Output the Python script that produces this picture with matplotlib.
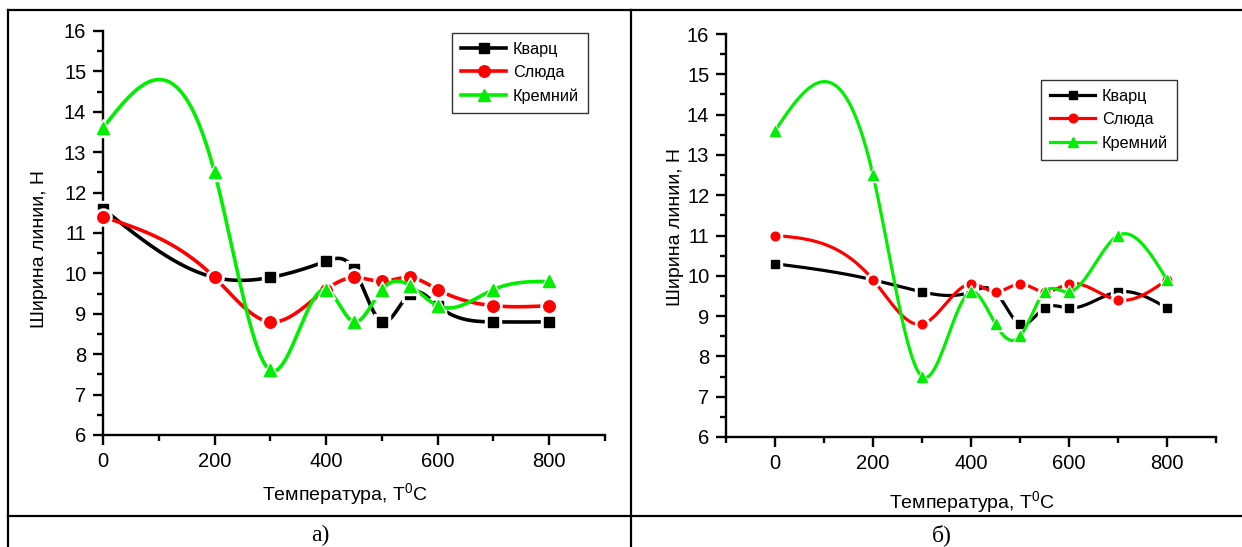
import numpy as np
import matplotlib
matplotlib.use('Agg')
import matplotlib.pyplot as plt
from matplotlib.lines import Line2D
from matplotlib.ticker import MultipleLocator

# Data
temps = [0, 200, 300, 400, 450, 500, 550, 600, 700, 800]
names = ['Кварц', 'Слюда', 'Кремний']

quartz_a = [11.6, 9.9, 9.9, 10.3, 10.1, 8.8, 9.5, 9.2, 8.8, 8.8]
mica_a = [11.4, 9.9, 8.8, 9.6, 9.9, 9.8, 9.9, 9.6, 9.2, 9.2]
silicon_a = [13.6, 12.5, 7.6, 9.6, 8.8, 9.6, 9.7, 9.2, 9.6, 9.8]

quartz_b = [10.3, 9.9, 9.6, 9.6, 9.6, 8.8, 9.2, 9.2, 9.6, 9.2]
mica_b = [11.0, 9.9, 8.8, 9.8, 9.6, 9.8, 9.6, 9.8, 9.4, 9.9]
silicon_b = [13.6, 12.5, 7.5, 9.6, 8.8, 8.5, 9.6, 9.6, 11.0, 9.9]

colors = ['#000000', '#ff0000', '#00ee00']
markers = ['s', 'o', '^']
msizes = [7.5, 8.3, 9]

plt.rcParams['font.family'] = ['Liberation Sans', 'DejaVu Sans']
plt.rcParams['mathtext.default'] = 'regular'


def natural_spline(x, y, num=400):
    # natural cubic spline, like the smoothed lines of the original plot
    x = np.asarray(x, float)
    y = np.asarray(y, float)
    n = len(x)
    h = np.diff(x)
    A = np.zeros((n, n))
    r = np.zeros(n)
    A[0, 0] = 1
    A[-1, -1] = 1
    for i in range(1, n - 1):
        A[i, i - 1] = h[i - 1]
        A[i, i] = 2 * (h[i - 1] + h[i])
        A[i, i + 1] = h[i]
        r[i] = 6 * ((y[i + 1] - y[i]) / h[i] - (y[i] - y[i - 1]) / h[i - 1])
    M = np.linalg.solve(A, r)
    xs = np.linspace(x[0], x[-1], num)
    idx = np.clip(np.searchsorted(x, xs) - 1, 0, n - 2)
    x0, x1 = x[idx], x[idx + 1]
    hh = x1 - x0
    a = (x1 - xs) / hh
    b = (xs - x0) / hh
    ys = (a * y[idx] + b * y[idx + 1]
          + ((a ** 3 - a) * M[idx] + (b ** 3 - b) * M[idx + 1]) * hh ** 2 / 6)
    return xs, ys


fig = plt.figure(figsize=(12.42, 5.47), dpi=100)

# table lines around the two panels
W, H = 1242, 547
for (x0, y0, x1, y1) in [(8, 10, 1242, 10), (8, 516, 1242, 516),
                         (8, 10, 8, 547), (631, 10, 631, 547)]:
    fig.add_artist(Line2D([x0 / W, x1 / W], [1 - y0 / H, 1 - y1 / H],
                          color='black', lw=1.6, transform=fig.transFigure))

panels = [
    dict(rect=[103 / W, 1 - 435 / H, 502 / W, 404 / H], xlim=(0, 900),
         series=[quartz_a, mica_a, silicon_a], leg=(452, 33), ms=1.0, lw=2.6,
         ylab=(40, 249), xlab=(345, 494), tag=(320, 535), tagtext='а)'),
    dict(rect=[726 / W, 1 - 437 / H, 490 / W, 403 / H], xlim=(-100, 900),
         series=[quartz_b, mica_b, silicon_b], leg=(1041, 80), ms=0.75, lw=2.3,
         ylab=(675, 227), xlab=(972, 502), tag=(942, 535), tagtext='б)'),
]

for p in panels:
    ax = fig.add_axes(p['rect'])
    for k, vals in enumerate(p['series']):
        ms = msizes[k] * p['ms']
        xs, ys = natural_spline(temps, vals)
        ax.plot(xs, ys, color=colors[k], lw=p['lw'], zorder=2 + 3 * k,
                solid_capstyle='butt')
        ax.plot(temps, vals, ls='none', marker=markers[k], ms=ms + 4,
                color='white', mec='white', zorder=3 + 3 * k, clip_on=False)
        ax.plot(temps, vals, ls='none', marker=markers[k], ms=ms,
                color=colors[k], mec=colors[k], zorder=4 + 3 * k, clip_on=False)

    ax.set_xlim(*p['xlim'])
    ax.set_ylim(6, 16)
    ax.xaxis.set_major_locator(MultipleLocator(200))
    ax.xaxis.set_minor_locator(MultipleLocator(100))
    ax.yaxis.set_major_locator(MultipleLocator(1))
    ax.yaxis.set_minor_locator(MultipleLocator(0.5))
    for s in ['top', 'right']:
        ax.spines[s].set_visible(False)
    for s in ['left', 'bottom']:
        ax.spines[s].set_linewidth(1.7)
    ax.tick_params(which='major', direction='out', length=7, width=1.7,
                   labelsize=14.5, pad=5)
    ax.tick_params(which='minor', direction='out', length=4, width=1.7)

    handles = [Line2D([], [], color=colors[k], lw=p['lw'], marker=markers[k],
                      ms=msizes[k] * p['ms']) for k in range(3)]
    lx, ly = p['leg']
    leg = fig.legend(handles, names, loc='upper left',
                     bbox_to_anchor=(lx / W, 1 - ly / H), borderaxespad=0,
                     fontsize=11.7, handlelength=2.8, handletextpad=0.4,
                     labelspacing=0.5, borderpad=0.55, fancybox=False,
                     edgecolor='#333333', framealpha=1)
    leg.get_frame().set_linewidth(1.0)

    fig.text(p['ylab'][0] / W, 1 - p['ylab'][1] / H, 'Ширина линии, Н',
             rotation=90, ha='center', va='center', fontsize=14)
    fig.text(p['xlab'][0] / W, 1 - p['xlab'][1] / H, 'Температура, T$^{0}$C',
             ha='center', va='center', fontsize=14)
    fig.text(p['tag'][0] / W, 1 - p['tag'][1] / H, p['tagtext'],
             ha='center', va='center', fontsize=17,
             family=['Liberation Serif', 'DejaVu Serif'])

fig.savefig('out.png', dpi=100)
